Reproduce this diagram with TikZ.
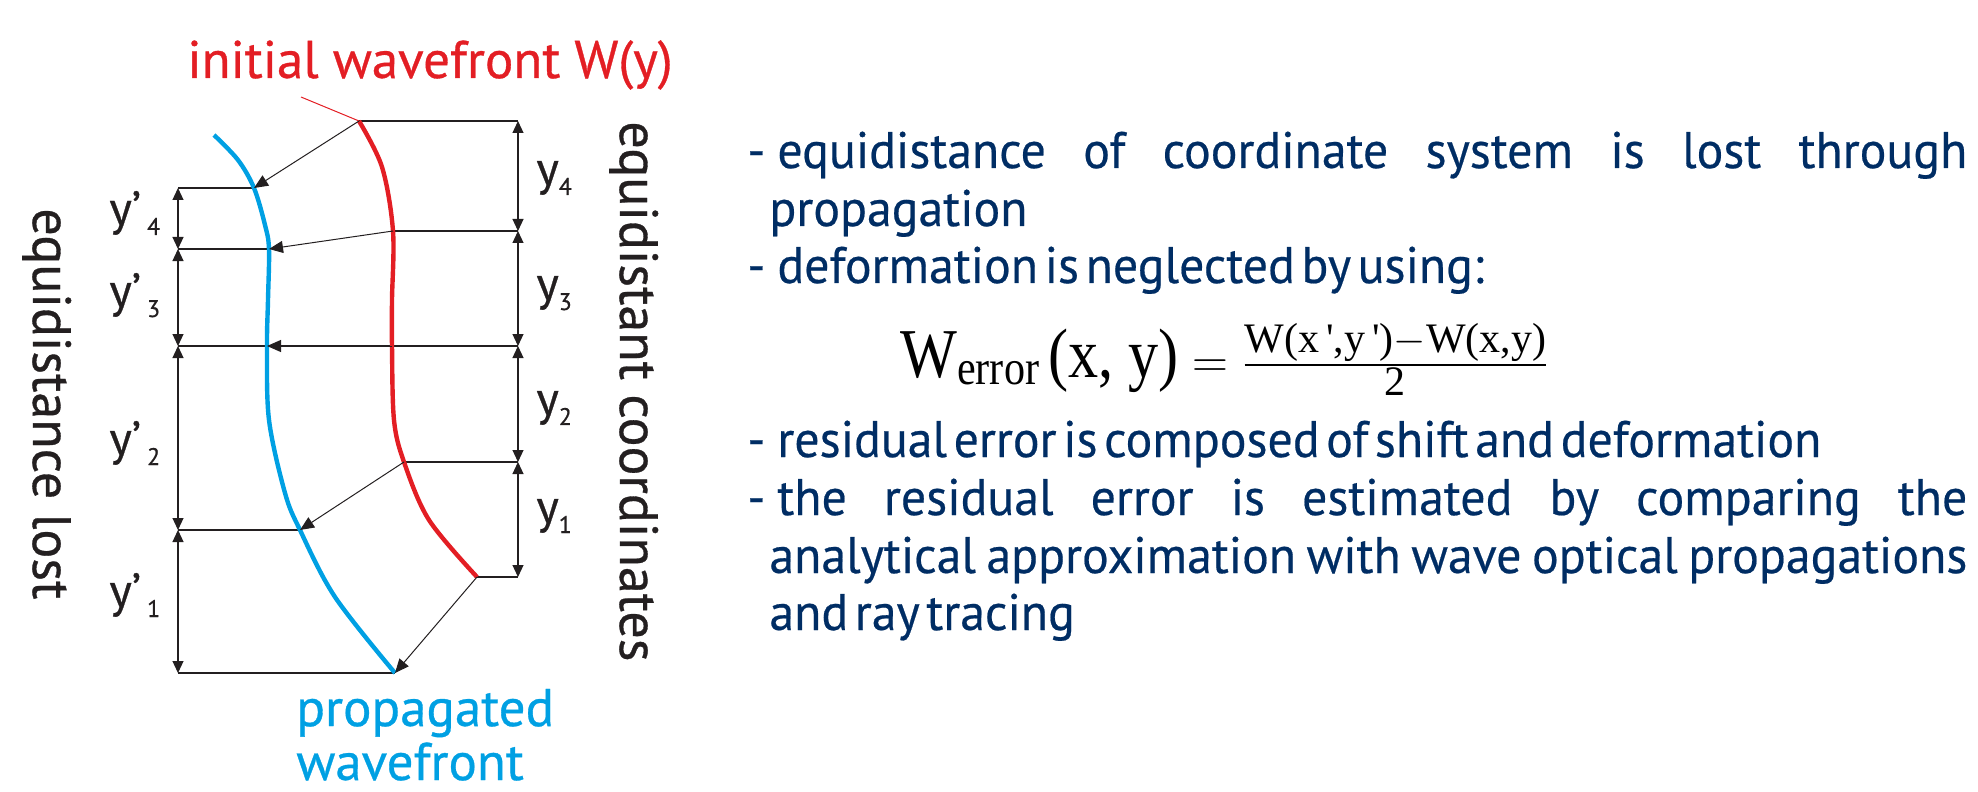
\documentclass[tikz,border=0pt]{standalone}
\usepackage{amsmath}
\usepackage{fontspec}
\setmainfont{PT Sans}
\newfontfamily\labelfont[FakeBold=0.6]{PT Sans}
\newfontfamily\condfont[FakeStretch=0.97,WordSpace=0.5,FakeBold=0.4]{PT Sans}
\newfontfamily\formfont[FakeStretch=0.86]{Liberation Serif}
\newfontfamily\numfont{Liberation Serif}
\usetikzlibrary{arrows.meta}

\definecolor{wavered}{RGB}{227,30,36}
\definecolor{waveblue}{RGB}{0,160,227}
\definecolor{textnavy}{RGB}{0,45,100}
\definecolor{linegray}{RGB}{35,31,32}

\newcommand{\ysub}[1]{\raisebox{-5pt}{\fontsize{12}{12}\selectfont #1}}

\tikzset{
  dimline/.style={draw=linegray, line width=0.6pt},
  dimarrow/.style={dimline, {Triangle[length=6pt,width=5.5pt]}-{Triangle[length=6pt,width=5.5pt]}},
  shiftarrow/.style={draw=linegray, line width=0.5pt, -{Triangle[length=7pt,width=6pt]}},
  frontline/.style={line width=2.2pt},
  dimlabel/.style={text=linegray, inner sep=0pt, anchor=base west, font=\labelfont\fontsize{24}{24}\selectfont},
  sidetext/.style={text=linegray, inner sep=0pt, rotate=-90, anchor=base west, font=\labelfont\fontsize{27}{27}\selectfont},
  fronttext/.style={inner sep=0pt, anchor=base west, font=\labelfont\fontsize{26.5}{26.5}\selectfont},
  listtext/.style={text=textnavy, inner sep=0pt, anchor=base west, font=\condfont\fontsize{25.7}{25.7}\selectfont},
}

\begin{document}
\begin{tikzpicture}[x=0.5pt, y=-0.5pt]
    \useasboundingbox (0,0) rectangle (1978,792);

    \coordinate (r4) at (359,121);
    \coordinate (r3) at (393,231);
    \coordinate (r2) at (392,346);
    \coordinate (r1) at (404,462);
    \coordinate (r0) at (477,577);
    \coordinate (b5) at (214,135);
    \coordinate (b4) at (254,188);
    \coordinate (b3) at (269,249);
    \coordinate (b2) at (267,346);
    \coordinate (b1) at (300,530);
    \coordinate (b0) at (395,673);
    \foreach \n/\yy in {4/121,3/231,2/346,1/462,0/577}
        \coordinate (R\n) at (518,\yy);
    \foreach \n/\yy in {4/188,3/249,2/346,1/530,0/673}
        \coordinate (L\n) at (178,\yy);
    \coordinate (tagfoot) at (301,97);

    \draw[dimline] (r4) -- (R4) (r3) -- (R3) (R2) -- (L2) (r1) -- (R1) (r0) -- (R0);
    \draw[dimline] (L4) -- (b4) (L3) -- (b3) (L1) -- (b1) (L0) -- (b0);
    \draw[dimarrow] (R4) -- (R3);
    \draw[dimarrow] (R3) -- (R2);
    \draw[dimarrow] (R2) -- (R1);
    \draw[dimarrow] (R1) -- (R0);
    \draw[dimarrow] (L4) -- (L3);
    \draw[dimarrow] (L3) -- (L2);
    \draw[dimarrow] (L2) -- (L1);
    \draw[dimarrow] (L1) -- (L0);

    \draw[frontline, wavered] plot[smooth, tension=0.55] coordinates
        {(r4) (382,167) (r3) (392,300) (r2) (394,420) (r1) (429,520) (r0)};
    \draw[frontline, waveblue] plot[smooth, tension=0.55] coordinates
        {(b5) (238,160) (b4) (265,225) (b3) (268,300) (b2) (269,420) (285,493) (b1) (335,597) (b0)};
    \draw[wavered, line width=0.5pt] (tagfoot) -- (r4);

    \draw[shiftarrow] (r4) -- (b4);
    \draw[shiftarrow] (r3) -- (b3);
    \draw[shiftarrow] (r2) -- (b2);
    \draw[shiftarrow] (r1) -- (b1);
    \draw[shiftarrow] (r0) -- (b0);

    \node[dimlabel] (y4) at (536,185) {y\ysub{4}};
    \node[dimlabel] (y3) at (536,300) {y\ysub{3}};
    \node[dimlabel] (y2) at (536,415) {y\ysub{2}};
    \node[dimlabel] (y1) at (536,523) {y\ysub{1}};
    \node[dimlabel] (yp4) at (109,225) {y’\hspace{3pt}\ysub{4}};
    \node[dimlabel] (yp3) at (109,307) {y’\hspace{3pt}\ysub{3}};
    \node[dimlabel] (yp2) at (109,455) {y’\hspace{3pt}\ysub{2}};
    \node[dimlabel] (yp1) at (109,607) {y’\hspace{3pt}\ysub{1}};

    \node[sidetext] (lostlabel) at (33,208) {equidistance lost};
    \node[sidetext] (coordlabel) at (620,121) {equidistant coordinates};
    \node[fronttext, text=wavered] (initlabel) at (187,78) {initial wavefront W(y)};
    \node[fronttext, text=waveblue] (proplabel) at (296,726) {propagated};
    \node[fronttext, text=waveblue] (wavelabel) at (296,780) {wavefront};

    \foreach \n/\yy in {1/168,2/283,3/457,4/515}
        \node[listtext] (dash\n) at (747,\yy) {-};
    \node[listtext] (eq1) at (777,168) {\makebox[595pt][s]{equidistance of coordinate system is lost through}};
    \node[listtext] (eq2) at (769,226) {propagation};
    \node[listtext] (def1) at (777,283) {deformation is neglected by using:};
    \node[anchor=base west, inner sep=0pt, font=\formfont\fontsize{35}{35}\selectfont] (werror) at (900,377)
        {$\text{W}_{\text{error}}\,\text{(x, y)} = \frac{\text{\numfont\fontsize{21}{21}\selectfont W(x\,',y\,')$-$W(x,y)}}{\text{\numfont\fontsize{21}{21}\selectfont 2}}$};
    \node[listtext] (res1) at (777,457) {residual error is composed of shift and deformation};
    \node[listtext] (cmp1) at (777,515) {\makebox[595pt][s]{the residual error is estimated by comparing the}};
    \node[listtext] (cmp2) at (769,573) {\makebox[599pt][s]{analytical approximation with wave optical propagations}};
    \node[listtext] (cmp3) at (769,630) {and ray tracing};
\end{tikzpicture}
\end{document}
